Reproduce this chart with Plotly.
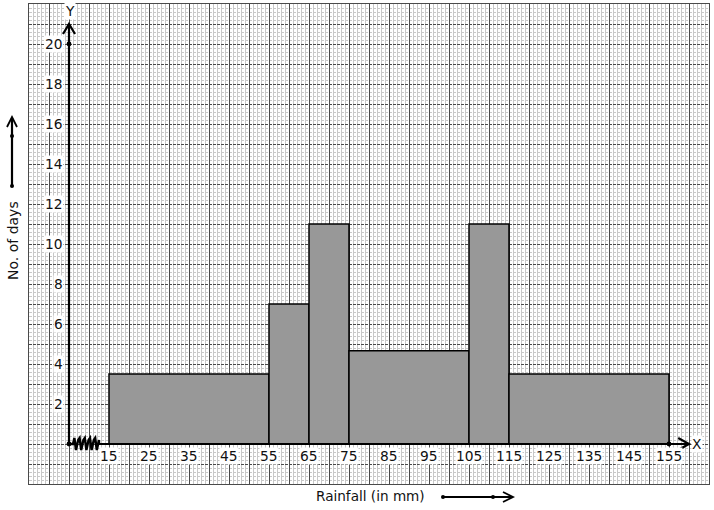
import plotly.graph_objects as go

# ---- data ----
bin_left = [15, 55, 65, 75, 105, 115]
bin_right = [55, 65, 75, 105, 115, 155]
heights = [3.5, 7, 11, 14 / 3, 11, 3.5]
x_ticks = [15, 25, 35, 45, 55, 65, 75, 85, 95, 105, 115, 125, 135, 145, 155]
y_ticks = [2, 4, 6, 8, 10, 12, 14, 16, 18, 20]
x_title = "Rainfall (in mm)"
y_title = "No. of days"

mids = [(a + b) / 2 for a, b in zip(bin_left, bin_right)]
widths = [b - a for a, b in zip(bin_left, bin_right)]

W, H = 714, 510
ML, MR, MT, MB = 29, 5, 4, 26
PW, PH = W - ML - MR, H - MT - MB
X0 = 5  # origin in data units (axis kink)


def px_x(p):
    return (p - ML) / PW


def px_y(p):
    return 1 - (p - MT) / PH


fig = go.Figure()
fig.add_trace(go.Bar(
    x=mids, y=heights, width=widths,
    marker=dict(color="#989898", line=dict(color="black", width=1.5)),
    hoverinfo="skip", showlegend=False,
))

FONT = dict(family="DejaVu Sans", size=13.8, color="#111")
ann = []
for v in x_ticks:
    ann.append(dict(x=v, y=-0.6, xref="x", yref="y", text=str(v), showarrow=False,
                    font=FONT, bgcolor="white", borderpad=0, xanchor="center", yanchor="middle"))
for v in y_ticks:
    ann.append(dict(x=3.7, y=v, xref="x", yref="y", text=str(v), showarrow=False,
                    font=FONT, bgcolor="white", borderpad=0, xanchor="right", yanchor="middle"))
ann.append(dict(x=162, y=0, xref="x", yref="y", text="X", showarrow=False, font=FONT,
                bgcolor="white", borderpad=0, xanchor="center", yanchor="middle"))
ann.append(dict(x=5.3, y=21.65, xref="x", yref="y", text="Y", showarrow=False, font=FONT,
                bgcolor="white", borderpad=0, xanchor="center", yanchor="middle"))
ann.append(dict(x=px_x(370), y=px_y(496), xref="paper", yref="paper", text=x_title,
                showarrow=False, font=dict(FONT, size=13.6), xanchor="center", yanchor="middle"))
ann.append(dict(x=px_x(13), y=px_y(241), xref="paper", yref="paper", text=y_title,
                showarrow=False, font=dict(FONT, size=14), textangle=-90, xanchor="center", yanchor="middle"))

shapes = []
LK = dict(color="black", width=2.2)
NOFILL = "rgba(0,0,0,0)"
# y axis
shapes.append(dict(type="line", xref="x", yref="y", x0=X0, y0=0, x1=X0, y1=21, line=LK))
shapes.append(dict(type="path", xref="x", yref="y", path="M 3.5,20.5 L 5,21 L 6.5,20.5",
                   line=LK, fillcolor=NOFILL))
# x axis with kink
shapes.append(dict(type="line", xref="x", yref="y", x0=12.5, y0=0, x1=160, y1=0, line=LK))
shapes.append(dict(type="path", xref="x", yref="y", path="M 157.3,0.3 L 160,0 L 157.3,-0.3",
                   line=LK, fillcolor=NOFILL))
zig = "M 5,0 L 6,0"
xs = 6.0
for i in range(5):
    zig += f" L {xs + 0.35:.2f},0.3 L {xs + 0.75:.2f},-0.3 L {xs + 1.3:.2f},0.2"
    xs += 1.3
zig += " L 12.5,0"
shapes.append(dict(type="path", xref="x", yref="y", path=zig,
                   line=dict(color="black", width=2.4), fillcolor=NOFILL))
# dots on axes
for (dx, dy) in [(X0, 0), (X0, 20), (155, 0)]:
    shapes.append(dict(type="circle", xref="x", yref="y", x0=dx - 0.6, x1=dx + 0.6,
                       y0=dy - 0.12, y1=dy + 0.12, fillcolor="black", line=dict(width=0)))
# y title arrow (margin)
shapes.append(dict(type="line", xref="paper", yref="paper", x0=px_x(12), x1=px_x(12),
                   y0=px_y(186), y1=px_y(118), line=LK))
shapes.append(dict(type="path", xref="paper", yref="paper",
                   path=f"M {px_x(7)},{px_y(127)} L {px_x(12)},{px_y(117)} L {px_x(17)},{px_y(127)}",
                   line=dict(color="black", width=1.8), fillcolor=NOFILL))
for py in (186, 136):
    shapes.append(dict(type="circle", xref="paper", yref="paper", x0=px_x(10), x1=px_x(14),
                       y0=px_y(py + 2), y1=px_y(py - 2), fillcolor="black", line=dict(width=0)))
# x title arrow (margin)
shapes.append(dict(type="line", xref="paper", yref="paper", x0=px_x(443), x1=px_x(512),
                   y0=px_y(497), y1=px_y(497), line=LK))
shapes.append(dict(type="path", xref="paper", yref="paper",
                   path=f"M {px_x(503)},{px_y(492)} L {px_x(513)},{px_y(497)} L {px_x(503)},{px_y(502)}",
                   line=dict(color="black", width=1.8), fillcolor=NOFILL))
for pxx in (443, 493):
    shapes.append(dict(type="circle", xref="paper", yref="paper", x0=px_x(pxx - 2), x1=px_x(pxx + 2),
                       y0=px_y(499), y1=px_y(495), fillcolor="black", line=dict(width=0)))

fig.update_layout(
    width=W, height=H,
    margin=dict(l=ML, r=MR, t=MT, b=MB),
    paper_bgcolor="white", plot_bgcolor="white",
    annotations=ann, shapes=shapes,
    showlegend=False,
    xaxis=dict(range=[-5, 165], tick0=0, dtick=5, showgrid=True, gridcolor="#4a4a4a", gridwidth=1,
               showticklabels=False, ticks="", zeroline=False,
               showline=True, mirror=True, linecolor="#4a4a4a", linewidth=1,
               minor=dict(dtick=1, tick0=0, showgrid=True, gridcolor="#c8c8c8", gridwidth=1)),
    yaxis=dict(range=[-2, 22], tick0=0, dtick=1, showgrid=True, gridcolor="#4a4a4a", gridwidth=1,
               griddash="3px,1px",
               showticklabels=False, ticks="", zeroline=False,
               showline=True, mirror=True, linecolor="#4a4a4a", linewidth=1,
               minor=dict(dtick=0.2, tick0=0, showgrid=True, gridcolor="#c8c8c8", gridwidth=1)),
)

fig.write_html("out.html", config={"displayModeBar": False},
               post_script="document.body.style.margin='0';document.body.style.overflow='hidden';")
